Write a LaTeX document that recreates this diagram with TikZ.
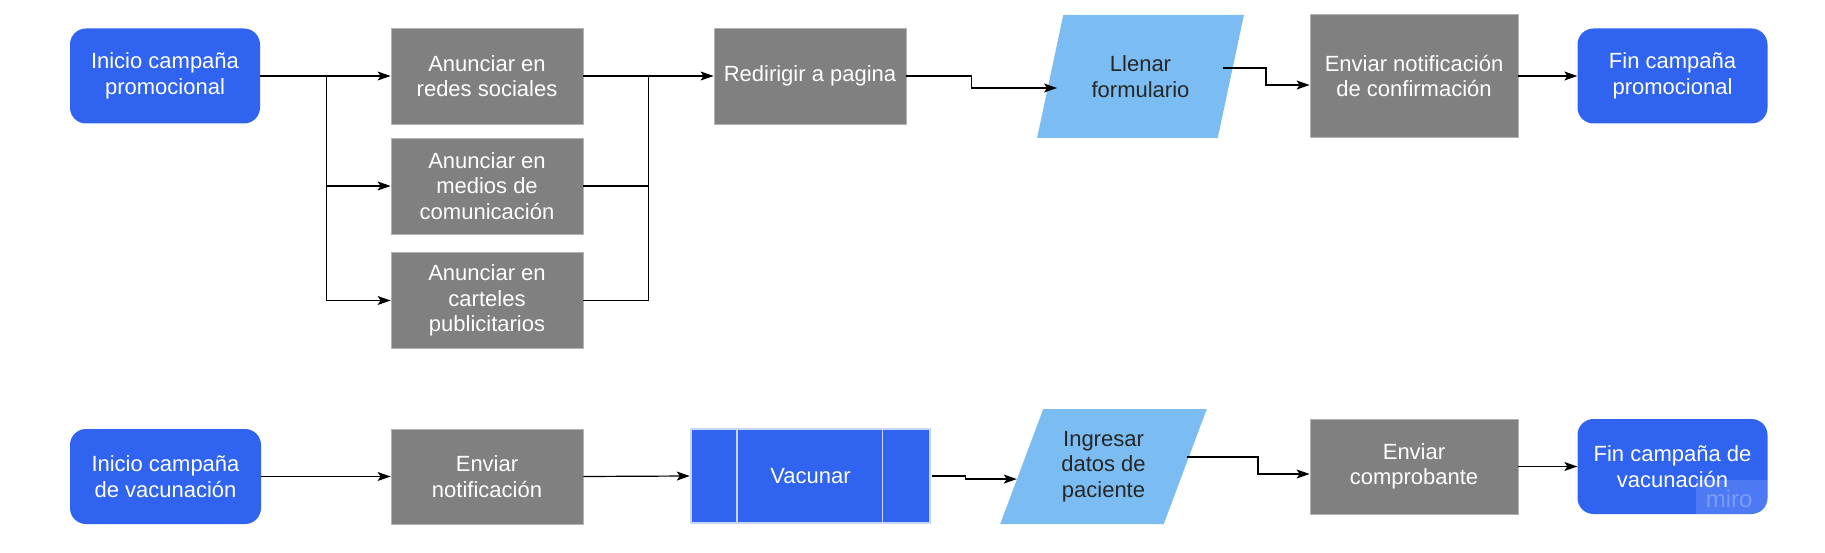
\documentclass[tikz,border=0pt]{standalone}
\usepackage{fontspec}
\setmainfont{Liberation Sans}
\usetikzlibrary{arrows.meta,calc,shapes.geometric}
\definecolor{mblue}{RGB}{47,99,240}
\definecolor{mgray}{RGB}{128,128,128}
\definecolor{mlight}{RGB}{123,189,242}
\definecolor{mborder}{RGB}{200,214,245}
\begin{document}
\begin{tikzpicture}[x=1pt,y=-1pt,
  txt/.style={font=\fontsize{22}{25.5}\selectfont, align=center, inner sep=0pt},
  term/.style={txt, fill=mblue, text=white, rounded corners=16pt, minimum width=190pt, minimum height=95pt},
  proc/.style={txt, fill=mgray, draw=mgray!60!white, line width=0.8pt, text=white, minimum width=192pt, minimum height=96pt},
  io/.style={txt, trapezium, trapezium stretches=true, fill=mlight, text=black!85, minimum width=207pt},
  arr/.style={line width=1.2pt, -{Stealth[length=13pt,width=9pt,inset=3pt]}},
  ln/.style={line width=1.2pt}]
\useasboundingbox (0,0) rectangle (1825,553);

% ---- top row ----
\node[term] (inicioP) at (165,76) {Inicio campaña\\promocional};
\node[proc] (redes) at (487,76) {Anunciar en\\redes sociales};
\node[proc] (medios) at (487,186) {Anunciar en\\medios de\\comunicación};
\node[proc] (carteles) at (487,300.5) {Anunciar en\\carteles\\publicitarios};
\node[proc] (redirigir) at (810,76) {Redirigir a pagina};
\node[io, minimum height=123pt, trapezium left angle=68.3, trapezium right angle=111.7] (llenar) at (1140.5,76.5) {Llenar\\formulario};
\node[proc, minimum width=208pt, minimum height=123pt] (enviarConf) at (1414,76) {Enviar notificación\\de confirmación};
\node[term] (finP) at (1672.5,76) {Fin campaña\\promocional};

% ---- bottom row ----
\node[term, minimum width=191pt] (inicioV) at (165.5,476.5) {Inicio campaña\\de vacunación};
\node[proc, minimum height=95pt] (enviarNot) at (487,476.5) {Enviar\\notificación};
\node[txt, fill=mblue, draw=mborder, line width=2.5pt, text=white, minimum width=239pt, minimum height=94pt] (vacunar) at (810.5,476) {Vacunar};
\draw[mborder, line width=1.5pt] ($(vacunar.north west)+(47,0)$) -- ($(vacunar.south west)+(47,0)$);
\draw[mborder, line width=1.5pt] ($(vacunar.north east)+(-49,0)$) -- ($(vacunar.south east)+(-49,0)$);
\node[io, minimum height=115pt, trapezium left angle=66.9, trapezium right angle=113.1] (ingresar) at (1103.5,466.5) {Ingresar\\datos de\\paciente};
\node[proc, minimum width=208pt, minimum height=95pt] (enviarComp) at (1414,466.5) {Enviar\\comprobante};
\node[term] (finV) at (1672.5,466.5) {Fin campaña de\\vacunación};

% ---- top connectors ----
\draw[arr] (inicioP.east) -- (redes.west);
\draw[arr] ($(inicioP.east)+(66,0)$) |- (medios.west);
\draw[arr] ($(inicioP.east)+(66,0)$) |- (carteles.west);
\coordinate (merge) at ($(redes.east)+(65,0)$);
\draw[arr] (redes.east) -- (redirigir.west);
\draw[ln] (medios.east) -| (merge);
\draw[ln] (carteles.east) -| (merge);
\coordinate (llIn) at ($(llenar.center)+(-83.5,11.5)$);
\draw[arr] (redirigir.east) -- ++(65,0) |- (llIn);
\coordinate (llOut) at ($(llenar.center)+(82,-8.5)$);
\coordinate (confIn) at ($(enviarConf.west)+(0,9)$);
\draw[arr] (llOut) -- ($(llOut)!0.5!(llOut-|confIn)$) |- (confIn);
\draw[arr] (enviarConf.east) -- (finP.west);

% ---- bottom connectors ----
\draw[arr] (inicioV.east) -- (enviarNot.west);
\draw[arr] (enviarNot.east) -- (vacunar.west);
\coordinate (inIn) at ($(ingresar.top left corner)!0.609!(ingresar.bottom left corner)$);
\draw[arr] ([xshift=1pt]vacunar.east) -- ++(33,0) |- (inIn);
\coordinate (inOut) at ($(ingresar.center)+(83,-9.5)$);
\coordinate (compIn) at ($(enviarComp.west)+(0,7.5)$);
\draw[arr] (inOut) -- ($(inOut)!0.58!(inOut-|compIn)$) |- (compIn);
\draw[arr] (enviarComp.east) -- (finV.west);

% ---- watermark ----
\begin{scope}
\clip ($(finV.south east)+(-72,-34)$) rectangle (finV.south east);
\fill[white, opacity=0.15] ($(finV.south east)+(-72,-34)$) rectangle (finV.south east);
\node[anchor=west, inner sep=0pt, text=white, text opacity=0.25, font=\fontsize{24}{24}\selectfont] (wm) at ($(finV.south east)+(-62,-15)$) {miro};
\end{scope}
\end{tikzpicture}
\end{document}
